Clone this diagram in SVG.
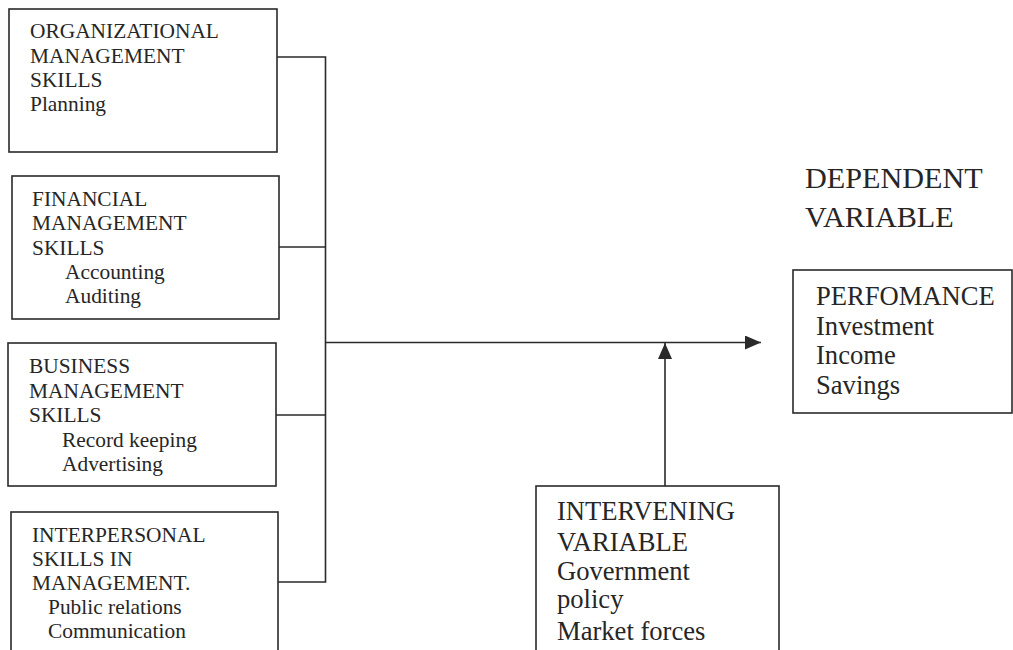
<svg xmlns="http://www.w3.org/2000/svg" width="1013" height="650" viewBox="0 0 1013 650">
<style>
.box{fill:none;stroke:#2a2a2a;stroke-width:1.6}
.ln{fill:none;stroke:#2a2a2a;stroke-width:1.6}
text{font-family:"Liberation Serif","Times New Roman",serif;fill:#262626}
.s{font-size:21.4px}
.m{font-size:26.6px}
.l{font-size:30.2px}
</style>
<defs>
<marker id="ah" viewBox="0 0 16 14" refX="16" refY="7" markerWidth="16" markerHeight="14" markerUnits="userSpaceOnUse" orient="auto">
<path d="M0,0 L16,7 L0,14 Z" fill="#2a2a2a"/>
</marker>
</defs>
<rect width="1013" height="650" fill="#fff"/>
<g id="connectors">
<polyline class="ln" points="277,57 325.5,57 325.5,582 278,582"/>
<line class="ln" x1="279" y1="247" x2="325.5" y2="247"/>
<line class="ln" x1="276" y1="415" x2="325.5" y2="415"/>
<line class="ln" x1="325.5" y1="342.5" x2="761" y2="342.5" marker-end="url(#ah)"/>
<line class="ln" x1="665" y1="486" x2="665" y2="343" marker-end="url(#ah)"/>
</g>
<g id="org">
<rect class="box" x="9" y="9" width="268" height="143"/>
<text class="s" x="30" y="38">ORGANIZATIONAL</text>
<text class="s" x="30" y="63">MANAGEMENT</text>
<text class="s" x="30" y="87">SKILLS</text>
<text class="s" x="30" y="111">Planning</text>
</g>
<g id="fin">
<rect class="box" x="12" y="176" width="267" height="143"/>
<text class="s" x="32" y="206">FINANCIAL</text>
<text class="s" x="32" y="230">MANAGEMENT</text>
<text class="s" x="32" y="255">SKILLS</text>
<text class="s" x="65" y="279">Accounting</text>
<text class="s" x="65" y="303">Auditing</text>
</g>
<g id="bus">
<rect class="box" x="8" y="343" width="268" height="143"/>
<text class="s" x="29" y="373">BUSINESS</text>
<text class="s" x="29" y="398">MANAGEMENT</text>
<text class="s" x="29" y="422">SKILLS</text>
<text class="s" x="62" y="447">Record keeping</text>
<text class="s" x="62" y="471">Advertising</text>
</g>
<g id="inter">
<rect class="box" x="11" y="512" width="267" height="150"/>
<text class="s" x="32" y="542">INTERPERSONAL</text>
<text class="s" x="32" y="566">SKILLS IN</text>
<text class="s" x="32" y="590">MANAGEMENT.</text>
<text class="s" x="48" y="614">Public relations</text>
<text class="s" x="48" y="638">Communication</text>
</g>
<g id="intervening">
<rect class="box" x="536" y="486" width="243" height="176"/>
<text class="m" x="557" y="520">INTERVENING</text>
<text class="m" x="557" y="551">VARIABLE</text>
<text class="m" x="557" y="580">Government</text>
<text class="m" x="557" y="608">policy</text>
<text class="m" x="557" y="640">Market forces</text>
</g>
<g id="dependent-label">
<text class="l" x="805" y="188">DEPENDENT</text>
<text class="l" x="805" y="227">VARIABLE</text>
</g>
<g id="performance">
<rect class="box" x="793" y="270" width="219" height="143"/>
<text class="m" x="816" y="305">PERFOMANCE</text>
<text class="m" x="816" y="335">Investment</text>
<text class="m" x="816" y="364">Income</text>
<text class="m" x="816" y="394">Savings</text>
</g>
</svg>
